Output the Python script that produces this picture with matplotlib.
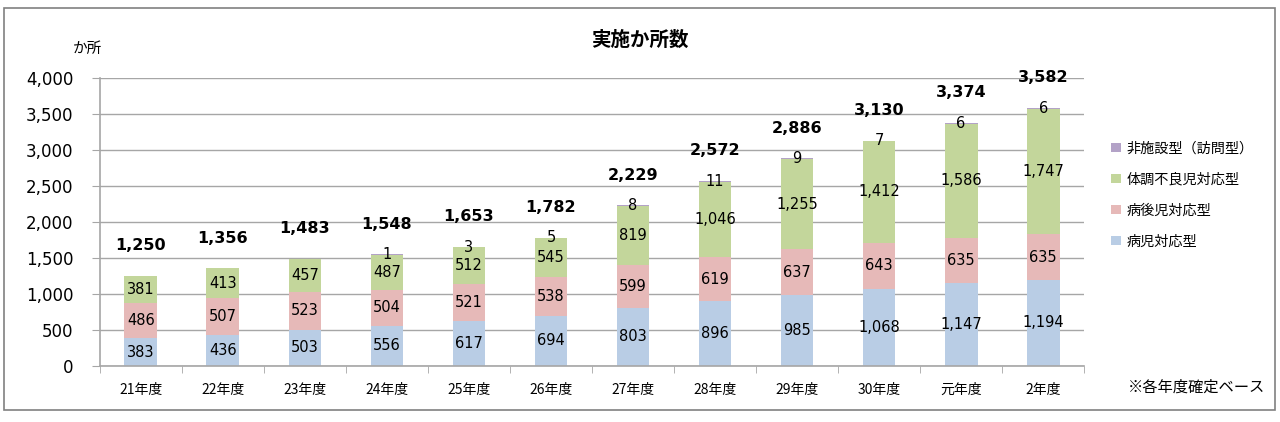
import numpy as np
import matplotlib.pyplot as plt
from matplotlib.patches import Patch, Rectangle

plt.rcParams['font.family'] = ['Noto Sans CJK JP', 'DejaVu Sans']

# data
years = ['21年度', '22年度', '23年度', '24年度', '25年度', '26年度',
         '27年度', '28年度', '29年度', '30年度', '元年度', '2年度']
byoji = [383, 436, 503, 556, 617, 694, 803, 896, 985, 1068, 1147, 1194]
byogo = [486, 507, 523, 504, 521, 538, 599, 619, 637, 643, 635, 635]
taicho = [381, 413, 457, 487, 512, 545, 819, 1046, 1255, 1412, 1586, 1747]
homon = [0, 0, 0, 1, 3, 5, 8, 11, 9, 7, 6, 6]
totals = [1250, 1356, 1483, 1548, 1653, 1782, 2229, 2572, 2886, 3130, 3374, 3582]

names = ['病児対応型', '病後児対応型', '体調不良児対応型', '非施設型（訪問型）']
colors = ['#B9CDE5', '#E6B9B8', '#C3D69B', '#B3A2C7']

fig = plt.figure(figsize=(12.8, 4.22), dpi=100)
fig.patches.append(Rectangle((0.003, 0.028), 0.993, 0.953, transform=fig.transFigure,
                             fill=False, edgecolor='#808080', lw=1.2))
ax = fig.add_axes([0.078, 0.133, 0.769, 0.682])

x = np.arange(len(years))
w = 0.4
bottom = np.zeros(len(years))
series = [byoji, byogo, taicho, homon]
for vals, c in zip(series, colors):
    vals = np.array(vals)
    ax.bar(x, vals, w, bottom=bottom, color=c, zorder=2)
    for xi, v, b in zip(x, vals, bottom):
        if v > 0:
            ax.text(xi, b + v / 2, f'{v:,}', ha='center', va='center',
                    fontsize=10.5, family='DejaVu Sans', zorder=3)
    bottom += vals

for xi, t in zip(x, totals):
    ax.text(xi, t + 420, f'{t:,}', ha='center', va='center', fontsize=11.5,
            fontweight='bold', family='DejaVu Sans', clip_on=False)

ax.set_xlim(-0.5, len(years) - 0.5)
ax.set_ylim(0, 4000)
ax.set_yticks(np.arange(0, 4001, 500))
ax.set_yticklabels([f'{v:,}' for v in range(0, 4001, 500)],
                   family='DejaVu Sans', fontsize=12)
ax.yaxis.grid(True, color='#a6a6a6', lw=1, zorder=0)
ax.tick_params(axis='y', length=6, color='#a6a6a6', pad=13)

ax.set_xticks(x)
ax.set_xticklabels(years, fontsize=10)
ax.tick_params(axis='x', length=0, pad=12)
ax.set_xticks(np.arange(-0.5, len(years)), minor=True)
ax.tick_params(axis='x', which='minor', length=5, color='#a6a6a6')

for s in ['top', 'right']:
    ax.spines[s].set_visible(False)
for s in ['left', 'bottom']:
    ax.spines[s].set_color('#a6a6a6')
    ax.spines[s].set_linewidth(1.2)

fig.text(0.5, 0.905, '実施か所数', ha='center', va='center', fontsize=14, fontweight='bold')
fig.text(0.068, 0.885, 'か所', ha='center', va='center', fontsize=10.5)
fig.text(0.988, 0.083, '※各年度確定ベース', ha='right', va='center', fontsize=11)

handles = [Patch(facecolor=c) for c in colors][::-1]
fig.legend(handles, names[::-1], loc='upper left', bbox_to_anchor=(0.858, 0.695),
           frameon=False, fontsize=10.2, handlelength=0.7, handleheight=0.7,
           handletextpad=0.4, labelspacing=1.2)

fig.savefig('out.png', dpi=100)
